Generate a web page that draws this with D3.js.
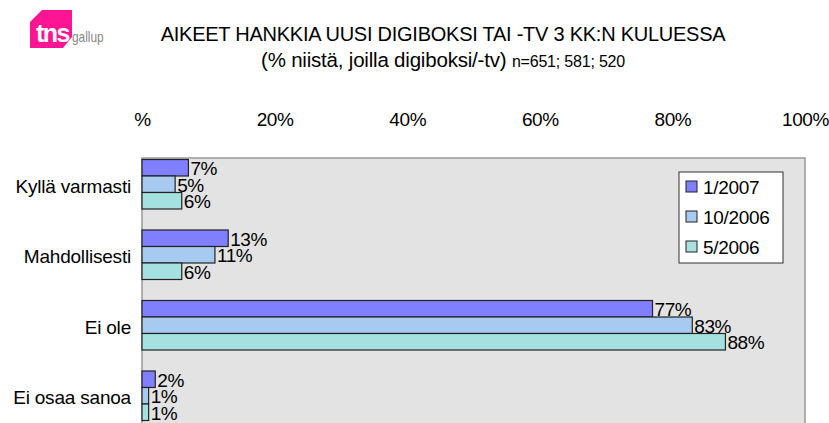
<!DOCTYPE html>
<html>
<head>
<meta charset="utf-8">
<script src="https://cdn.jsdelivr.net/npm/d3@7"></script>
<style>
  body { margin: 0; background: #fff; }
  svg { font-family: "Liberation Sans", Arial, sans-serif; }
</style>
</head>
<body>
<svg width="829" height="423"></svg>
<script>
const categories = ["Kyllä varmasti", "Mahdollisesti", "Ei ole", "Ei osaa sanoa"];
const seriesNames = ["1/2007", "10/2006", "5/2006"];
const s2007_1 = [7, 13, 77, 2];
const s2006_10 = [5, 11, 83, 1];
const s2006_5 = [6, 6, 88, 1];
const tickValues = [0, 20, 40, 60, 80, 100];
const tickLabels = ["%", "20%", "40%", "60%", "80%", "100%"];
const colors = ["#8080ff", "#a6caf0", "#a6e1e1"];

const series = [s2007_1, s2006_10, s2006_5];

const svg = d3.select("svg");

// logo
const logo = svg.append("g");
logo.append("path")
  .attr("d", "M42,10 L72,10 L72,37 L63,48 L30,48 L30,22 Z")
  .attr("fill", "#ff1493");
logo.append("text").attr("x", 36).attr("y", 42)
  .attr("font-size", 25).attr("font-weight", "bold").attr("fill", "#fff")
  .attr("letter-spacing", -1.5).text("tns");
logo.append("text").attr("x", 72).attr("y", 42)
  .attr("font-size", 14).attr("fill", "#888")
  .attr("transform", "translate(72,42) scale(0.85,1) translate(-72,-42)")
  .text("gallup");

// title
svg.append("text").attr("x", 443).attr("y", 41).attr("text-anchor", "middle")
  .attr("font-size", 20).attr("letter-spacing", -0.25)
  .text("AIKEET HANKKIA UUSI DIGIBOKSI TAI -TV 3 KK:N KULUESSA");
const sub = svg.append("text").attr("x", 443).attr("y", 67).attr("text-anchor", "middle")
  .attr("font-size", 20.5).attr("letter-spacing", -0.2);
sub.append("tspan").text("(% niistä, joilla digiboksi/-tv) ");
sub.append("tspan").attr("font-size", 16).text("n=651; 581; 520");

const x = d3.scaleLinear().domain([0, 100]).range([142, 805]);
const y = d3.scaleBand().domain(categories).range([149, 431]);
const yi = d3.scaleBand().domain(seriesNames).range([0, 49.5]);

// plot area
svg.append("rect")
  .attr("x", x(0)).attr("y", 158)
  .attr("width", x(100) - x(0)).attr("height", 280)
  .attr("fill", "#e3e3e3").attr("stroke", "#999").attr("stroke-width", 1.5);

// top axis
const axis = d3.axisTop(x).tickValues(tickValues)
  .tickFormat((d, i) => tickLabels[i]).tickSize(0);
const ax = svg.append("g").attr("transform", "translate(0,129)").call(axis);
ax.select(".domain").remove();
ax.selectAll("text").attr("font-size", 19).attr("font-family", "Liberation Sans, Arial, sans-serif")
  .attr("fill", "#000").attr("letter-spacing", -0.4);

// category labels
svg.append("g").selectAll("text").data(categories).join("text")
  .attr("x", 131)
  .attr("y", d => y(d) + y.bandwidth() / 2 + 2)
  .attr("dy", "0.35em")
  .attr("text-anchor", "end")
  .attr("font-size", 19)
  .attr("letter-spacing", -0.2)
  .text(d => d);

// bars
const groups = svg.append("g").selectAll("g").data(categories).join("g")
  .attr("transform", d => `translate(0,${y(d) + (y.bandwidth() - 49.5) / 2})`);

groups.each(function (c, ci) {
  const g = d3.select(this);
  const rows = seriesNames.map((s, si) => ({ s, si, v: series[si][ci] }));
  g.selectAll("rect").data(rows).join("rect")
    .attr("x", x(0))
    .attr("y", d => yi(d.s))
    .attr("width", d => x(d.v) - x(0))
    .attr("height", yi.bandwidth())
    .attr("fill", d => colors[d.si])
    .attr("stroke", "#222").attr("stroke-width", 1.2);
  g.selectAll("text").data(rows).join("text")
    .attr("x", d => x(d.v) + 2)
    .attr("y", d => yi(d.s) + yi.bandwidth() / 2 + 1)
    .attr("dy", "0.35em")
    .attr("font-size", 19)
    .attr("letter-spacing", -0.4)
    .text(d => d.v + "%");
});

// legend
const lg = svg.append("g");
lg.append("rect").attr("x", 679).attr("y", 172).attr("width", 104).attr("height", 91)
  .attr("fill", "#fff").attr("stroke", "#333").attr("stroke-width", 1);
const li = lg.selectAll("g").data(seriesNames).join("g")
  .attr("transform", (d, i) => `translate(686,${187 + i * 30})`);
li.append("rect").attr("x", 0).attr("y", -6).attr("width", 11).attr("height", 11)
  .attr("fill", (d, i) => colors[i]).attr("stroke", "#222");
li.append("text").attr("x", 17).attr("y", 0).attr("dy", "0.35em")
  .attr("font-size", 19).attr("letter-spacing", -0.3).text(d => d);
</script>
</body>
</html>
